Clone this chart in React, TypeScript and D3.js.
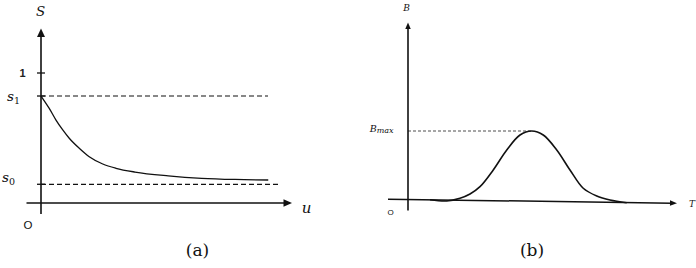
import React from "react";
import * as d3 from "d3";

// Panel (a): S versus u
const uValues = [0, 0.33, 0.6, 0.87, 1.13, 1.53, 1.93, 2.47, 3.0, 3.76, 5.09, 6.43, 7.76, 9.09];
const sValues = [0.823, 0.728, 0.638, 0.562, 0.498, 0.421, 0.356, 0.3, 0.267, 0.238, 0.209, 0.19, 0.181, 0.177];
const s1Level = 0.823;
const s0Level = 0.144;
const s1End = 9.08;
const s0End = 9.56;
const sTickValues = [1, s1Level, s0Level];

// Panel (b): B versus T
const tValues = [0.88, 1.55, 2.08, 2.48, 2.88, 3.41, 3.95, 4.48, 4.95, 5.41, 5.95, 6.48, 7.01, 7.55, 8.08, 8.75];
const bValues = [-0.004, -0.022, 0.018, 0.08, 0.187, 0.431, 0.723, 0.942, 1.0, 0.942, 0.723, 0.431, 0.164, 0.051, -0.007, -0.047];
const bMax = 1;
const tPeak = 4.95;

const W = 696;
const H = 268;

const mathFont = "'DejaVu Serif', serif";
const sansFont = "'Liberation Sans', Arial, sans-serif";

function arrowHead(tipX: number, tipY: number, fromX: number, fromY: number, len: number, wid: number) {
  const dx = tipX - fromX;
  const dy = tipY - fromY;
  const d = Math.hypot(dx, dy);
  const ux = dx / d;
  const uy = dy / d;
  const bx = tipX - ux * len;
  const by = tipY - uy * len;
  const px = -uy * (wid / 2);
  const py = ux * (wid / 2);
  return `M${tipX},${tipY}L${bx + px},${by + py}L${bx - px},${by - py}Z`;
}

function PanelA() {
  const x = d3.scaleLinear().domain([0, 10]).range([41, 291]);
  const y = d3.scaleLinear().domain([0, 1]).range([203, 73]);
  const line = d3
    .line<number>()
    .x((_, i) => x(uValues[i]))
    .y((d) => y(d))
    .curve(d3.curveMonotoneX);
  const x0 = x(0);
  const y0 = y(0);
  const yTop = 28.5;
  const yBottom = 214;
  const xLeft = 26.5;
  const xRight = 292;
  return (
    <g>
      <line x1={x0} x2={x(s1End)} y1={y(s1Level)} y2={y(s1Level)} stroke="#111" strokeWidth={1.2} strokeDasharray="5,3" />
      <line x1={x0} x2={x(s0End)} y1={y(s0Level)} y2={y(s0Level)} stroke="#111" strokeWidth={1.2} strokeDasharray="5,3" />
      <path d={line(sValues) || ""} fill="none" stroke="#111" strokeWidth={1.3} />
      <line x1={x0} x2={x0} y1={yBottom} y2={yTop + 6} stroke="#111" strokeWidth={1.6} />
      <path d={arrowHead(x0, yTop, x0, yBottom, 8.5, 8)} fill="#111" />
      <line x1={xLeft} x2={xRight - 6} y1={y0} y2={y0} stroke="#111" strokeWidth={1.6} />
      <path d={arrowHead(xRight, y0, xLeft, y0, 8.5, 7.5)} fill="#111" />
      {sTickValues.map((v, i) => (
        <line key={i} x1={x0 - 4} x2={x0 + 4} y1={y(v)} y2={y(v)} stroke="#111" strokeWidth={1.3} />
      ))}
      <text x={22.5} y={77} fontFamily={sansFont} fontSize={11} fontWeight="bold" textAnchor="middle" fill="#222">1</text>
      <text x={20} y={100.5} fontFamily={mathFont} fontSize={13.5} textAnchor="end" fill="#111">
        <tspan fontStyle="italic">s</tspan>
        <tspan fontSize={9.5} dy={3}>1</tspan>
      </text>
      <text x={15} y={181.5} fontFamily={mathFont} fontSize={13.5} textAnchor="end" fill="#111">
        <tspan fontStyle="italic">s</tspan>
        <tspan fontSize={9.5} dy={3}>0</tspan>
      </text>
      <text x={40.5} y={15.5} fontFamily={mathFont} fontSize={13.5} fontStyle="italic" textAnchor="middle" fill="#111">S</text>
      <text x={306.5} y={212.5} fontFamily={mathFont} fontSize={15} fontStyle="italic" textAnchor="middle" fill="#111">u</text>
      <text x={28} y={228.5} fontFamily={sansFont} fontSize={11.5} textAnchor="middle" fill="#111">O</text>
      <text x={197.5} y={255.5} fontFamily={mathFont} fontSize={17} textAnchor="middle" fill="#111">(a)</text>
    </g>
  );
}

function PanelB() {
  const x = d3.scaleLinear().domain([0, 10]).range([408, 658]);
  const y = d3.scaleLinear().domain([0, 1]).range([199.5, 131]);
  const line = d3
    .line<number>()
    .x((_, i) => x(tValues[i]))
    .y((d) => y(d))
    .curve(d3.curveCatmullRom.alpha(0.5));
  const x0 = x(0);
  const yTop = 22.5;
  const yBottom = 210.5;
  const axL = { x: 388, y: 199.2 };
  const axR = { x: 677, y: 203.2 };
  return (
    <g>
      <line x1={x0} x2={x(tPeak)} y1={y(bMax)} y2={y(bMax)} stroke="#222" strokeWidth={0.8} strokeDasharray="3,2" />
      <path d={line(bValues) || ""} fill="none" stroke="#111" strokeWidth={1.6} />
      <line x1={x0} x2={x0} y1={yBottom} y2={yTop + 5} stroke="#111" strokeWidth={1.6} />
      <path d={arrowHead(x0, yTop, x0, yBottom, 6.5, 5.5)} fill="#111" />
      <line x1={axL.x} y1={axL.y} x2={axR.x - 5} y2={axR.y - 0.07} stroke="#111" strokeWidth={1.5} />
      <path d={arrowHead(axR.x, axR.y, axL.x, axL.y, 7, 5.5)} fill="#111" />
      <text x={406.5} y={10.7} fontFamily={mathFont} fontSize={9} fontStyle="italic" textAnchor="middle" fill="#111">B</text>
      <text x={393.5} y={131.5} fontFamily={mathFont} fontSize={9.5} fontStyle="italic" textAnchor="end" fill="#111">
        <tspan>B</tspan>
        <tspan fontSize={8} dy={1.5}>max</tspan>
      </text>
      <text x={692} y={206.7} fontFamily={mathFont} fontSize={9} fontStyle="italic" textAnchor="middle" fill="#111">T</text>
      <text x={390.7} y={215} fontFamily={sansFont} fontSize={8} textAnchor="middle" fill="#111">O</text>
      <text x={532} y={255.5} fontFamily={mathFont} fontSize={17} textAnchor="middle" fill="#111">(b)</text>
    </g>
  );
}

export default function App() {
  return (
    <svg
      width={W}
      height={H}
      viewBox={`0 0 ${W} ${H}`}
      style={{ position: "absolute", left: 0, top: 0, background: "#fff" }}
    >
      <rect width={W} height={H} fill="#fff" />
      <PanelA />
      <PanelB />
    </svg>
  );
}
